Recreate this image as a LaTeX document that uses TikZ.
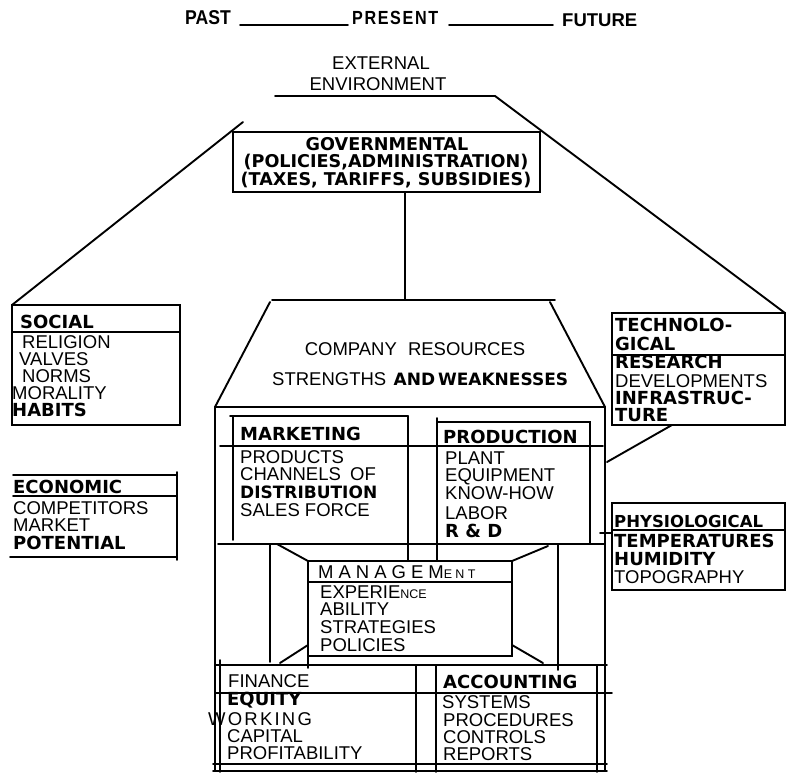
\documentclass[tikz,border=0pt]{standalone}
\usepackage{fontspec}
\newfontfamily\rgfam{Liberation Sans}
\newfontfamily\bdfam{DejaVu Sans}
\newfontfamily\spfam[LetterSpace=27]{Liberation Sans}
\newfontfamily\wkfam[LetterSpace=12]{Liberation Sans}
\newfontfamily\prfam[LetterSpace=10]{Liberation Sans}
\newcommand\myrg{\rgfam\fontsize{18.5}{21}\selectfont}
\newcommand\mysm{\rgfam\fontsize{12.5}{15}\selectfont}
\newcommand\mybd{\bdfam\bfseries\fontsize{18}{21}\selectfont}
\newcommand\myhd{\rgfam\bfseries\fontsize{18.5}{21}\selectfont}
\tikzset{
  ln/.style={line width=1.9pt, line cap=round},
  txt/.style={inner sep=0pt, text depth=0pt},
  t/.style={txt, anchor=base west, font=\myrg},
  tb/.style={txt, anchor=base west, font=\mybd},
  tc/.style={txt, anchor=base, font=\myrg},
  tbc/.style={txt, anchor=base, font=\bdfam\bfseries\fontsize{17.6}{20}\selectfont},
}
\begin{document}
\begin{tikzpicture}[x=1pt,y=-1pt]
\useasboundingbox (0,0) rectangle (788,777);
\fill[white] (0,0) rectangle (788,777);

% ---------- header ----------
\node[txt, anchor=base west, font=\rgfam\bfseries\fontsize{20}{22}\selectfont] (past) at (185,24) {\scalebox{0.88}[1]{PAST}};
\coordinate (l1a) at (240,25); \coordinate (l1b) at (348,25);
\draw[ln] (l1a) -- (l1b);
\node[txt, anchor=base west, font=\prfam\bfseries\fontsize{19}{21}\selectfont] (present) at (352,24) {\scalebox{0.85}[1]{PRESENT}};
\coordinate (l2a) at (449,25); \coordinate (l2b) at (553,25);
\draw[ln] (l2a) -- (l2b);
\node[txt, anchor=base west, font=\myhd] (future) at (562,26) {FUTURE};

% ---------- external environment ----------
\node[tc] (ext1) at (381,69) {EXTERNAL};
\node[tc] (ext2) at (378,90) {ENVIRONMENT};
\coordinate (eL) at (275,96); \coordinate (eR) at (495,96);
\coordinate (techTL) at (612,313); \coordinate (techBR) at (785,425);
\coordinate (techTR) at (785,313);
\draw[ln] (eL) -- (eR) -- (techTR);

% ---------- governmental ----------
\coordinate (gTL) at (233,132); \coordinate (gBR) at (540,192);
\draw[ln] (gTL) rectangle (gBR);
\node[tbc] (gov1) at (387,150) {GOVERNMENTAL};
\node[tbc] (gov2) at (386,167) {(POLICIES,ADMINISTRATION)};
\node[tbc] (gov3) at (386,185) {(TAXES, TARIFFS, SUBSIDIES)};
\coordinate (gdiag) at (243,122);
\coordinate (socTL) at (12,305); \coordinate (socBR) at (180,425);
\draw[ln] (gdiag) -- (socTL);
\coordinate (gbot) at (405,192); \coordinate (ctop) at (405,300);
\draw[ln] (gbot) -- (ctop);

% ---------- social ----------
\draw[ln] (socTL) rectangle (socBR);
\draw[ln] (12,332) -- (180,332);
\node[tb] (soc) at (20,328) {SOCIAL};
\node[t] (rel) at (22,348) {RELIGION};
\node[t] (val) at (19,365) {VALVES};
\node[t] (nor) at (22,382) {NORMS};
\node[t] (mor) at (12,399) {MORALITY};
\node[tb] (hab) at (12,416) {HABITS};

% ---------- economic ----------
\draw[ln] (13,475) -- (177,475);
\draw[ln] (13,496) -- (177,496);
\draw[ln] (10,557) -- (177,557);
\draw[ln] (177,472) -- (177,560);
\node[tb] (eco) at (13,493) {ECONOMIC};
\node[t] (comp) at (13,514) {COMPETITORS};
\node[t] (mkt) at (13,531) {MARKET};
\node[tb] (pot) at (13,549) {POTENTIAL};

% ---------- technological ----------
\draw[ln] (techTL) rectangle (techBR);
\draw[ln] (612,355) -- (785,355);
\node[tb] (tec1) at (615,331) {TECHNOLO-};
\node[tb] (tec2) at (615,350) {GICAL};
\node[tb] (tec3) at (615,368) {RESEARCH};
\node[t] (tec4) at (615,387) {DEVELOPMENTS};
\node[tb] (tec5) at (615,404) {INFRASTRUC-};
\node[tb] (tec6) at (615,421) {TURE};
\coordinate (techB) at (672,425); \coordinate (wallT) at (607,462);
\draw[ln] (techB) -- (wallT);

% ---------- physiological ----------
\draw[ln] (612,503) rectangle (785,590);
\draw[ln] (612,530) -- (785,530);
\draw[ln] (600,533) -- (612,533);
\node[txt, anchor=base west, font=\bdfam\bfseries\fontsize{16.5}{19}\selectfont] (phy1) at (614,527) {PHYSIOLOGICAL};
\node[tb] (phy2) at (614,547) {TEMPERATURES};
\node[tb] (phy3) at (614,565) {HUMIDITY};
\node[t] (phy4) at (614,583) {TOPOGRAPHY};

% ---------- company resources ----------
\draw[ln] (272,300) -- (555,300);
\draw[ln] (270,302) -- (215,407);
\draw[ln] (550,302) -- (605,407);
\draw[ln] (215,407) -- (605,407);
\draw[ln] (215,407) -- (215,770);
\draw[ln] (605,407) -- (605,770);
\node[tc] (cr1) at (415,355) {COMPANY\hspace{0.6em}RESOURCES};
\node[t] (cr2) at (272,385) {STRENGTHS\hspace{0.4em}{\bdfam\bfseries\fontsize{17}{20}\selectfont AND\,WEAKNESSES}};

% ---------- marketing ----------
\draw[ln] (230,416) -- (408,416);
\draw[ln] (233,416) -- (233,540);
\draw[ln] (408,416) -- (408,561);
\draw[ln] (220,446) -- (603,446);
\node[tb] (mk0) at (240,440) {MARKETING};
\node[t] (mk1) at (240,463) {PRODUCTS};
\node[t] (mk2) at (240,480) {CHANNELS\hspace{0.5em}OF};
\node[txt, anchor=base west, font=\bdfam\bfseries\fontsize{17}{20}\selectfont] (mk3) at (240,498) {DISTRIBUTION};
\node[t] (mk4) at (240,516) {SALES FORCE};

% ---------- production ----------
\draw[ln] (437,418) -- (437,561);
\draw[ln] (437,422) -- (590,422) -- (590,543);
\node[tb] (pr0) at (443,443) {PRODUCTION};
\node[t] (pr1) at (445,464) {PLANT};
\node[t] (pr2) at (445,481) {EQUIPMENT};
\node[t] (pr3) at (445,499) {KNOW-HOW};
\node[t] (pr4) at (445,519) {LABOR};
\node[tb] (pr5) at (445,537) {R \& D};

% ---------- middle band ----------
\draw[ln] (218,544) -- (605,544);
\draw[ln] (270,544) -- (270,662);
\draw[ln] (558,544) -- (558,670);

% ---------- management ----------
\coordinate (mTL) at (308,561); \coordinate (mBR) at (512,656);
\coordinate (mTR) at (512,561); \coordinate (mBL) at (308,656);
\draw[ln] (mTL) rectangle (mBR);
\draw[ln] (308,582) -- (512,582);
\draw[ln] (mBL) -- (308,668);
\draw[ln] (277,544) -- (mTL);
\draw[ln] (mTR) -- (548,546);
\draw[ln] (280,663) -- (308,645);
\draw[ln] (512,645) -- (543,663);
\node[txt, anchor=base west, font=\spfam\fontsize{18.5}{21}\selectfont] (mg0) at (318,578) {MANAGEM{\fontsize{12.5}{15}\selectfont ENT}};
\node[t] (mg1) at (320,598) {EXPERIE{\mysm NCE}};
\node[t] (mg2) at (320,615) {ABILITY};
\node[t] (mg3) at (320,633) {STRATEGIES};
\node[t] (mg4) at (320,651) {POLICIES};

% ---------- finance / accounting ----------
\draw[ln] (215,665) -- (607,665);
\draw[ln] (215,693) -- (612,693);
\draw[ln] (220,660) -- (220,772);
\draw[ln] (416,665) -- (416,772);
\draw[ln] (436,665) -- (436,772);
\draw[ln] (597,665) -- (597,772);
\draw[ln] (213,764) -- (607,764);
\draw[ln] (213,771) -- (607,771);
\node[t] (fi0) at (228,687) {FINANCE};
\node[tb] (fi1) at (227,705) {EQUITY};
\node[txt, anchor=base west, font=\wkfam\fontsize{18.5}{21}\selectfont] (fi2) at (208,725) {WORKING};
\node[t] (fi3) at (227,742) {CAPITAL};
\node[t] (fi4) at (227,759) {PROFITABILITY};
\node[tb] (ac0) at (443,688) {ACCOUNTING};
\node[t] (ac1) at (442,708) {SYSTEMS};
\node[t] (ac2) at (443,726) {PROCEDURES};
\node[t] (ac3) at (443,743) {CONTROLS};
\node[t] (ac4) at (443,760) {REPORTS};
\end{tikzpicture}
\end{document}
